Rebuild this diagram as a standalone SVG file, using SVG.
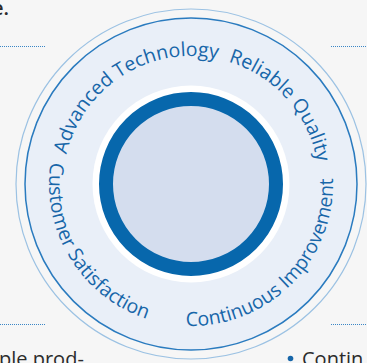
<svg xmlns="http://www.w3.org/2000/svg" width="367" height="363" viewBox="0 0 367 363">
<defs>
<style>
.arc{font-family:"Open Sans","Noto Sans",sans-serif;font-size:19.5px;font-weight:500;fill:#1766a9;}
.body{font-family:"Open Sans","Noto Sans",sans-serif;font-size:20px;fill:#2b2b2b;}
.dots{stroke:#3a86c6;stroke-width:1;stroke-dasharray:1 1;fill:none;}
</style>
<path id="topArc" d="M 70.72 227.78 A 128 128 0 1 1 311.28 227.78"/>
<path id="botArc" d="M 57.56 135.43 A 142 142 0 1 0 324.44 135.43"/>
</defs>
<rect width="367" height="363" fill="#f6f6f6"/>
<g id="decor">
<line class="dots" x1="0" y1="46.5" x2="45" y2="46.5"/>
<line class="dots" x1="331" y1="46.5" x2="367" y2="46.5"/>
<line class="dots" x1="0" y1="324.5" x2="45" y2="324.5"/>
<line class="dots" x1="331" y1="324.5" x2="367" y2="324.5"/>
</g>
<g id="wheel">
<circle cx="191" cy="184" r="175" fill="none" stroke="#9cc2e3" stroke-width="1.2"/>
<circle cx="191" cy="184" r="166" fill="#e9eff8" stroke="#2a7bbf" stroke-width="1.5"/>
<circle cx="191" cy="184" r="98.5" fill="#ffffff"/>
<circle cx="191" cy="184" r="85" fill="#d4ddee" stroke="#0767ac" stroke-width="14"/>
</g>
<g id="labels">
<text class="arc" text-anchor="middle"><textPath href="#topArc" startOffset="173.5">Advanced Technology</textPath></text>
<text class="arc" text-anchor="middle"><textPath href="#topArc" startOffset="354">Reliable Quality</textPath></text>
<text class="arc" text-anchor="middle"><textPath href="#botArc" startOffset="127.6">Customer Satisfaction</textPath></text>
<text class="arc" text-anchor="middle"><textPath href="#botArc" startOffset="384.1">Continuous Improvement</textPath></text>
</g>
<g id="page-text">
<text class="body" x="9" y="15" text-anchor="end" font-weight="600">e.</text>
<text class="body" x="-1" y="366">ple prod-</text>
<circle cx="290.5" cy="358.5" r="2.8" fill="#1766a9"/>
<text class="body" x="302" y="366">Contin</text>
</g>
</svg>
